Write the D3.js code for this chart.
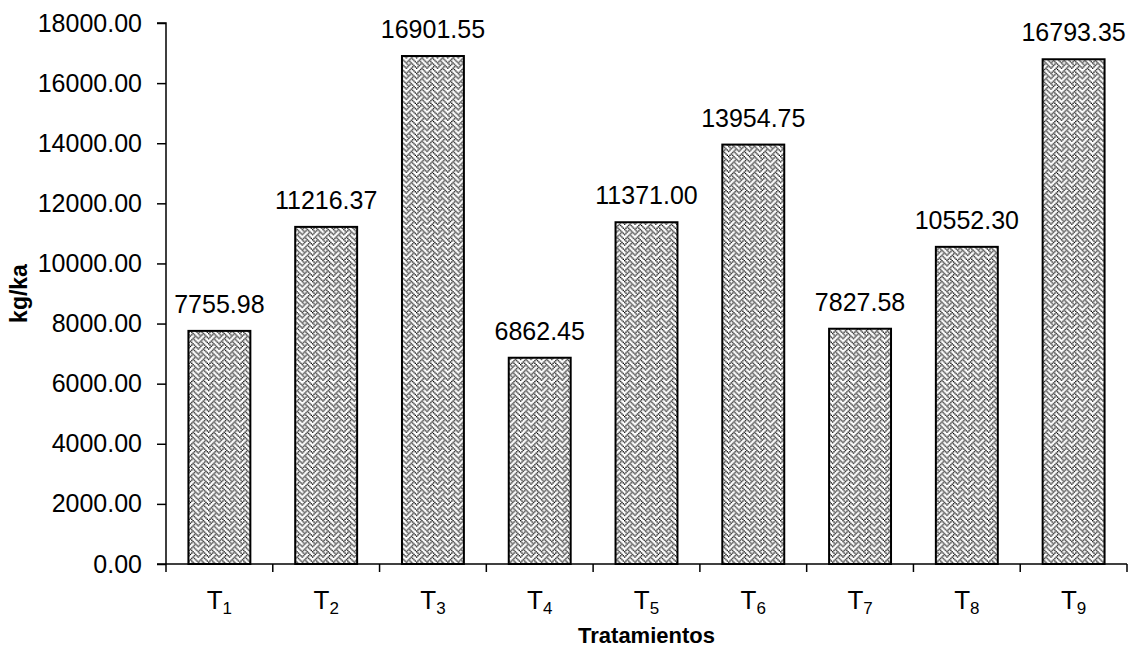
<!DOCTYPE html>
<html lang="es">
<head>
<meta charset="UTF-8">
<title>Rendimiento por tratamiento</title>
<script src="https://d3js.org/d3.v7.min.js"></script>
<style>
  body { margin: 0; background: #fff; }
  svg { display: block; font-family: "Liberation Sans", Arial, sans-serif; }
</style>
</head>
<body>
<div id="chart"></div>
<script>
  const width = 1134;
  const height = 648;

  // data
  const treatments = ["1", "2", "3", "4", "5", "6", "7", "8", "9"];
  const yields = [7755.98, 11216.37, 16901.55, 6862.45, 11371.00, 13954.75, 7827.58, 10552.30, 16793.35];
  const yTicks = [0, 2000, 4000, 6000, 8000, 10000, 12000, 14000, 16000, 18000];

  // weave pattern bits (8x8), one row per entry
  const weaveRows = [0x88, 0x54, 0x22, 0x45, 0x88, 0x14, 0x22, 0x51];

  const margin = { top: 23, right: 7, bottom: 84, left: 166 };

  const svg = d3.select("#chart")
    .append("svg")
    .attr("width", width)
    .attr("height", height);

  // hatch pattern for the bars
  const cell = 1.3;
  const pat = svg.append("defs").append("pattern")
    .attr("id", "weave")
    .attr("patternUnits", "userSpaceOnUse")
    .attr("width", cell * 8)
    .attr("height", cell * 8);
  pat.append("rect").attr("width", cell * 8).attr("height", cell * 8).attr("fill", "#fff");
  weaveRows.forEach((row, r) => {
    for (let c = 0; c < 8; c++) {
      if (row & (0x80 >> c)) {
        pat.append("rect")
          .attr("x", c * cell).attr("y", r * cell)
          .attr("width", cell).attr("height", cell)
          .attr("fill", "#000");
      }
    }
  });

  const x = d3.scaleBand()
    .domain(treatments)
    .range([margin.left, width - margin.right])
    .paddingInner(0.42)
    .paddingOuter(0.21);

  const y = d3.scaleLinear()
    .domain([0, 18000])
    .range([height - margin.bottom, margin.top]);

  // bars
  svg.append("g")
    .selectAll("rect")
    .data(yields)
    .join("rect")
    .attr("x", (d, i) => x(treatments[i]))
    .attr("y", d => y(d))
    .attr("width", x.bandwidth())
    .attr("height", d => y(0) - y(d))
    .attr("fill", "url(#weave)")
    .attr("stroke", "#000")
    .attr("stroke-width", 2);

  // value labels
  svg.append("g")
    .selectAll("text")
    .data(yields)
    .join("text")
    .attr("x", (d, i) => x(treatments[i]) + x.bandwidth() / 2)
    .attr("y", d => y(d) - 18)
    .attr("text-anchor", "middle")
    .attr("font-size", 25)
    .attr("fill", "#000")
    .text(d => d.toFixed(2));

  // y axis
  const yAxis = svg.append("g")
    .attr("transform", `translate(${margin.left},0)`)
    .call(d3.axisLeft(y).tickValues(yTicks).tickSize(9).tickPadding(15).tickFormat(d => d.toFixed(2)));
  yAxis.select(".domain").attr("stroke", "#000").attr("stroke-width", 1.5).attr("d", `M0,${y(0)}V${y(18000)}H-9`);
  yAxis.selectAll(".tick line").attr("stroke", "#000").attr("stroke-width", 1.5);
  yAxis.selectAll(".tick text").attr("font-size", 25).attr("fill", "#000")
    .attr("font-family", "'Liberation Sans', Arial, sans-serif");

  // x axis line with ticks between categories
  const xBase = y(0);
  const xLine = svg.append("g");
  xLine.append("line")
    .attr("x1", margin.left - 9).attr("x2", width - margin.right)
    .attr("y1", xBase).attr("y2", xBase)
    .attr("stroke", "#000").attr("stroke-width", 1.5);
  const step = x.step();
  const bounds = d3.range(treatments.length + 1).map(i => margin.left + i * step);
  xLine.selectAll(".xt")
    .data(bounds)
    .join("line")
    .attr("class", "xt")
    .attr("x1", d => d).attr("x2", d => d)
    .attr("y1", xBase).attr("y2", xBase + 8)
    .attr("stroke", "#000").attr("stroke-width", 1.5);

  // category labels T with subscript
  const catLabels = svg.append("g")
    .selectAll("text")
    .data(treatments)
    .join("text")
    .attr("x", d => x(d) + x.bandwidth() / 2)
    .attr("y", xBase + 45)
    .attr("text-anchor", "middle")
    .attr("font-size", 26)
    .attr("fill", "#000");
  catLabels.append("tspan").text("T");
  catLabels.append("tspan")
    .attr("font-size", 17)
    .attr("dy", 5)
    .text(d => d);

  // axis titles
  svg.append("text")
    .attr("x", (margin.left + width - margin.right) / 2)
    .attr("y", height - 5)
    .attr("text-anchor", "middle")
    .attr("font-size", 22)
    .attr("font-weight", "bold")
    .text("Tratamientos");

  svg.append("text")
    .attr("transform", `translate(27,${(y(0) + y(18000)) / 2}) rotate(-90)`)
    .attr("text-anchor", "middle")
    .attr("font-size", 23)
    .attr("font-weight", "bold")
    .text("kg/ka");
</script>
</body>
</html>
